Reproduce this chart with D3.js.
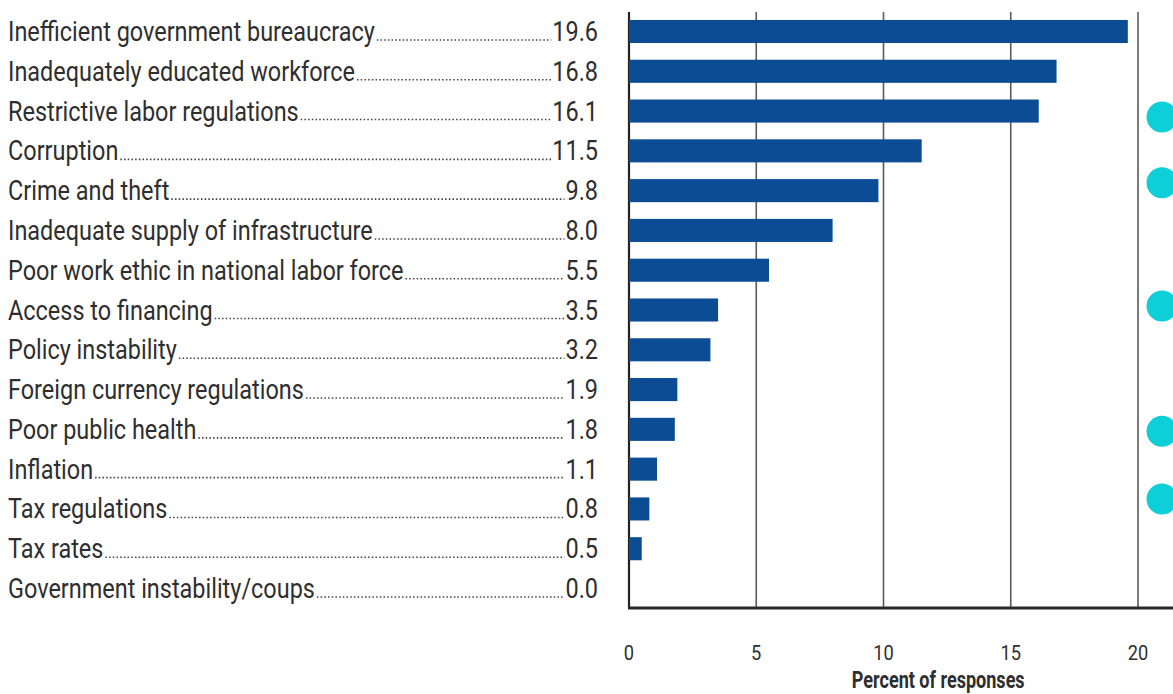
<!DOCTYPE html>
<html>
<head>
<meta charset="utf-8">
<script src="https://cdn.jsdelivr.net/npm/d3@7"></script>
<style>
    body { margin: 0; background: #fff; }
    text { font-family: Roboto, "DejaVu Sans Condensed", sans-serif; fill: #2e2e2e; }
</style>
</head>
<body>
<div id="chart"></div>
<script>
var categories = [
    "Inefficient government bureaucracy",
    "Inadequately educated workforce",
    "Restrictive labor regulations",
    "Corruption",
    "Crime and theft",
    "Inadequate supply of infrastructure",
    "Poor work ethic in national labor force",
    "Access to financing",
    "Policy instability",
    "Foreign currency regulations",
    "Poor public health",
    "Inflation",
    "Tax regulations",
    "Tax rates",
    "Government instability/coups"
];

var values = [19.6, 16.8, 16.1, 11.5, 9.8, 8.0, 5.5, 3.5, 3.2, 1.9, 1.8, 1.1, 0.8, 0.5, 0.0];

var xTicks = [0, 5, 10, 15, 20];

// markers on the right edge, placed by row position (fractional rows)
var markerRows = [2.15, 3.8, 6.9, 10.05, 11.75];

var width = 1173,
    height = 694;

var margin = {
    top: 12,
    left: 629,
    right: 35,
    bottom: 86
};

var svg = d3.select("#chart")
    .append("svg")
    .attr("width", width)
    .attr("height", height);

var x = d3.scaleLinear()
    .domain([0, 20])
    .range([margin.left, width - margin.right]);

var y = d3.scaleBand()
    .domain(d3.range(categories.length))
    .range([margin.top, height - margin.bottom])
    .paddingInner(0.42)
    .paddingOuter(0.2);

var rowY = d3.scaleLinear()
    .domain([0, 1])
    .range([y(0) + y.bandwidth() / 2, y(1) + y.bandwidth() / 2]);

var grid = svg.append("g");
var bars = svg.append("g");
var labels = svg.append("g");

// condensed text: normal glyphs squeezed horizontally
function condensed(layer, str, px, py, size, sx, anchor, weight) {
    return layer.append("text")
        .attr("transform", "translate(" + px + "," + py + ") scale(" + sx + ",1)")
        .attr("text-anchor", anchor || "start")
        .attr("font-size", size + "px")
        .attr("font-weight", weight || "normal")
        .text(str);
}

// work out squeeze factor so the first label spans like the original
var labelSize = 27;
var probe = condensed(svg, categories[0], 0, -100, labelSize, 1);
var sx = 367 / probe.node().getComputedTextLength();
probe.remove();

// gridlines
grid.selectAll("line.x")
    .data(xTicks.slice(1))
    .enter().append("line")
    .attr("class", "x")
    .attr("x1", x)
    .attr("x2", x)
    .attr("y1", margin.top)
    .attr("y2", height - margin.bottom)
    .attr("stroke", "#5a5a5a")
    .attr("stroke-width", 1.6);

// bars
bars.selectAll("rect")
    .data(values)
    .enter().append("rect")
    .attr("x", x(0))
    .attr("y", function (d, i) { return y(i); })
    .attr("width", function (d) { return x(d) - x(0); })
    .attr("height", y.bandwidth())
    .attr("fill", "#0b4c95");

// axes lines
grid.append("line")
    .attr("x1", x(0)).attr("x2", x(0))
    .attr("y1", margin.top).attr("y2", height - margin.bottom)
    .attr("stroke", "#222").attr("stroke-width", 2.2);

svg.append("line")
    .attr("x1", x(0) - 1).attr("x2", width)
    .attr("y1", height - margin.bottom).attr("y2", height - margin.bottom)
    .attr("stroke", "#2a2a2a").attr("stroke-width", 3);

// tick labels
xTicks.forEach(function (d) {
    condensed(svg, d, x(d), height - margin.bottom + 52, 21, sx, "middle");
});

var tprobe = condensed(svg, "Percent of responses", 0, -100, 23, 1, "start", "bold");
var tsx = 173 / tprobe.node().getComputedTextLength();
tprobe.remove();
condensed(svg, "Percent of responses", x(12.15), height - 6, 23, tsx, "middle", "bold")
    .attr("fill", "#262626");

// category labels with dot leaders
var labelX = 8,
    valueX = 598;

categories.forEach(function (name, i) {
    var cy = y(i) + y.bandwidth() / 2 + 9.5;

    var t = condensed(labels, name, labelX, cy, labelSize, sx);
    var v = condensed(labels, d3.format(".1f")(values[i]), valueX, cy, labelSize, sx, "end");

    var start = labelX + t.node().getComputedTextLength() * sx + 2;
    var end = valueX - v.node().getComputedTextLength() * sx - 1;

    labels.append("line")
        .attr("x1", start)
        .attr("x2", end)
        .attr("y1", cy - 1)
        .attr("y2", cy - 1)
        .attr("stroke", "#444")
        .attr("stroke-width", 1.6)
        .attr("stroke-dasharray", "1.5 2.2");
});

// cyan markers on right edge
svg.selectAll("circle.marker")
    .data(markerRows)
    .enter().append("circle")
    .attr("class", "marker")
    .attr("cx", 1162)
    .attr("cy", function (d) { return rowY(d); })
    .attr("r", 15.5)
    .attr("fill", "#0ccfd8");
</script>
</body>
</html>
